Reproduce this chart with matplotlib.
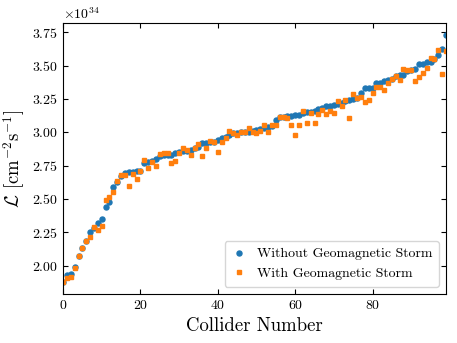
import matplotlib
matplotlib.use("Agg")
import matplotlib.pyplot as plt
import numpy as np

plt.rcParams['font.family'] = 'serif'
plt.rcParams['font.serif'] = ['cmr10']
plt.rcParams['mathtext.fontset'] = 'cm'
plt.rcParams['axes.formatter.use_mathtext'] = True
plt.rcParams['axes.unicode_minus'] = False

without_storm = [
    1.88, 1.929, 1.935, 1.992, 2.072, 2.13, 2.184, 2.25, 2.28, 2.322,
    2.35, 2.442, 2.475, 2.592, 2.63, 2.67, 2.692, 2.70, 2.704, 2.707,
    2.712, 2.767, 2.777, 2.785, 2.80, 2.822, 2.827, 2.827, 2.832, 2.847,
    2.85, 2.857, 2.862, 2.867, 2.88, 2.892, 2.917, 2.917, 2.925, 2.93,
    2.94, 2.958, 2.967, 2.977, 2.992, 2.997, 3.0, 3.004, 3.004, 3.012,
    3.017, 3.025, 3.034, 3.042, 3.05, 3.094, 3.112, 3.117, 3.122, 3.124,
    3.126, 3.133, 3.142, 3.15, 3.155, 3.16, 3.175, 3.18, 3.2, 3.2,
    3.205, 3.21, 3.217, 3.235, 3.245, 3.25, 3.255, 3.292, 3.33, 3.33,
    3.33, 3.366, 3.372, 3.382, 3.395, 3.40, 3.42, 3.427, 3.432, 3.457,
    3.47, 3.472, 3.515, 3.515, 3.527, 3.527, 3.552, 3.58, 3.627, 3.727,
]
with_storm = [
    1.879, 1.909, 1.917, 1.984, 2.072, 2.13, 2.184, 2.212, 2.29, 2.269,
    2.297, 2.494, 2.517, 2.55, 2.637, 2.68, 2.677, 2.597, 2.69, 2.65,
    2.71, 2.79, 2.732, 2.78, 2.747, 2.837, 2.847, 2.845, 2.77, 2.787,
    2.845, 2.88, 2.865, 2.832, 2.88, 2.912, 2.822, 2.88, 2.932, 2.93,
    2.855, 2.93, 2.955, 3.01, 2.992, 2.977, 3.0, 3.0, 3.032, 3.0,
    2.992, 3.01, 3.052, 3.0, 3.055, 3.055, 3.117, 3.113, 3.105, 3.057,
    2.982, 3.055, 3.16, 3.067, 3.147, 3.067, 3.135, 3.17, 3.135, 3.162,
    3.147, 3.232, 3.2, 3.24, 3.11, 3.287, 3.26, 3.267, 3.225, 3.24,
    3.297, 3.34, 3.34, 3.315, 3.37, 3.40, 3.425, 3.39, 3.472, 3.467,
    3.47, 3.385, 3.415, 3.445, 3.482, 3.56, 3.547, 3.62, 3.435, 3.607,
]
scale = 1e34
collider = np.arange(len(without_storm))
xticks = [0, 20, 40, 60, 80]
yticks = [2.00, 2.25, 2.50, 2.75, 3.00, 3.25, 3.50, 3.75]

fig = plt.figure(figsize=(4.57, 3.43), dpi=100)
ax = fig.add_axes([0.138, 0.143, 0.838, 0.790])

ax.plot(collider, np.array(without_storm) * scale, 'o', color='#1f77b4',
        ms=3.6, label='Without Geomagnetic Storm')
ax.plot(collider, np.array(with_storm) * scale, 's', color='#ff7f0e',
        ms=3.4, label='With Geomagnetic Storm')

ax.set_xlim(0, 99)
ax.set_ylim(1.787e34, 3.82e34)
ax.set_xticks(xticks)
ax.set_yticks([v * scale for v in yticks])
ax.tick_params(direction='in', top=True, right=True, labelsize=10)
ax.set_xlabel('Collider Number', fontsize=13.5)
ax.set_ylabel(r'$\mathcal{L}$ [cm$^{-2}$s$^{-1}$]', fontsize=13.5)
ax.legend(loc='lower right', fontsize=10, handlelength=1.0,
          handletextpad=0.8, borderpad=0.5)

fig.savefig('out.png', dpi=100)
